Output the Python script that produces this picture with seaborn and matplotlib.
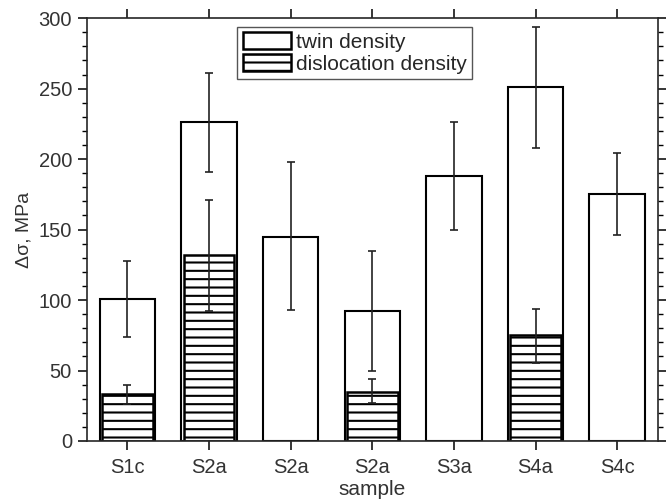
import numpy as np
import pandas as pd
import matplotlib
matplotlib.use("Agg")
import matplotlib.pyplot as plt
import seaborn as sns
from matplotlib.patches import Patch
from matplotlib.ticker import MultipleLocator

samples = ["S1c", "S2a", "S2a", "S2a", "S3a", "S4a", "S4c"]
twin = [101, 226, 145, 92, 188, 251, 175]
twin_lo = [74, 191, 93, 50, 150, 208, 146]
twin_hi = [128, 261, 198, 135, 226, 294, 204]

disl_pos = [0, 1, 3, 5]
disl = [33, 132, 35, 75]
disl_lo = [26, 92, 27, 55]
disl_hi = [40, 171, 44, 94]

sns.set_style("ticks")
plt.rcParams["font.family"] = ["Liberation Sans", "DejaVu Sans"]
plt.rcParams["hatch.linewidth"] = 1.5

twin_df = pd.DataFrame({"pos": np.arange(len(samples)), "val": twin})
disl_df = pd.DataFrame({"pos": disl_pos, "val": disl})

fig = plt.figure(figsize=(6.66, 5.04), dpi=100)
ax = fig.add_axes([0.13, 0.125, 0.858, 0.839])

sns.barplot(data=twin_df, x="pos", y="val", native_scale=True, width=0.68,
            color="white", edgecolor="black", linewidth=1.5, errorbar=None, ax=ax)
n_twin = len(ax.patches)
sns.barplot(data=disl_df, x="pos", y="val", native_scale=True, width=0.62,
            color="white", edgecolor="black", linewidth=1.8, errorbar=None, ax=ax)
for p in ax.patches[n_twin:]:
    p.set_hatch("--")

x = np.arange(len(samples))
err_kw = dict(fmt="none", ecolor="#222222", elinewidth=1.2, capsize=3, capthick=1.2)
ax.errorbar(x, twin, yerr=[np.array(twin) - np.array(twin_lo), np.array(twin_hi) - np.array(twin)], **err_kw)
ax.errorbar(disl_pos, disl, yerr=[np.array(disl) - np.array(disl_lo), np.array(disl_hi) - np.array(disl)], **err_kw)

ax.set_xlim(-0.5, 6.5)
ax.set_ylim(0, 300)
ax.set_xticks(x)
ax.set_xticklabels(samples)
ax.yaxis.set_major_locator(MultipleLocator(50))
ax.yaxis.set_minor_locator(MultipleLocator(10))
ax.tick_params(axis="both", which="both", direction="out", top=True, right=True,
               labelsize=14.5, colors="black", labelcolor="#333333")
ax.tick_params(axis="both", which="major", length=6.5, width=1.1)
ax.tick_params(axis="y", which="major", pad=4)
ax.tick_params(axis="x", which="major", pad=6)
ax.tick_params(axis="y", which="minor", length=3.5, width=1)
for s in ax.spines.values():
    s.set_linewidth(1.2)
    s.set_visible(True)

ax.set_xlabel("sample", fontsize=15, color="#333333", labelpad=2)
ax.set_ylabel("Δσ, MPa", fontsize=14, color="#333333", labelpad=4)

handles = [Patch(facecolor="white", edgecolor="black", linewidth=1.8, label="twin density"),
           Patch(facecolor="white", edgecolor="black", linewidth=1.8, hatch="--", label="dislocation density")]
leg = ax.legend(handles=handles, loc="upper left", bbox_to_anchor=(0.264, 0.979), fontsize=15,
                frameon=True, fancybox=False, edgecolor="#555555", framealpha=1,
                handlelength=2.3, handleheight=0.85, borderpad=0.25, labelspacing=0.12,
                handletextpad=0.25, borderaxespad=0)
leg.get_frame().set_linewidth(1.0)

fig.savefig("out.png", dpi=100)
